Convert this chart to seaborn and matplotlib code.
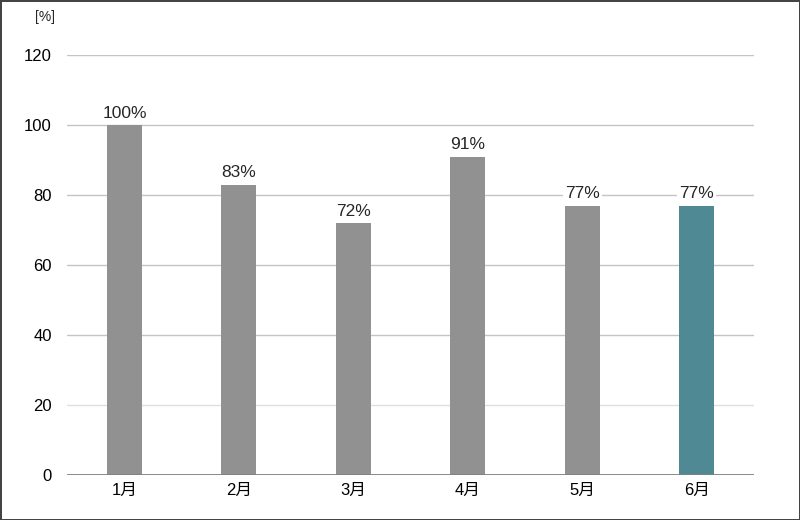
import matplotlib
matplotlib.use("Agg")
from matplotlib import pyplot as plt
import pandas as pd
import seaborn as sns

months = ["1月", "2月", "3月", "4月", "5月", "6月"]
rates = [100, 83, 72, 91, 77, 77]
bar_colors = ["#919191", "#919191", "#919191", "#919191", "#919191", "#4f8a94"]
y_ticks = [0, 20, 40, 60, 80, 100, 120]

sns.set_style("white")
plt.rcParams["font.family"] = ["Liberation Sans", "Noto Sans CJK JP", "DejaVu Sans"]

df = pd.DataFrame({"month": months, "rate": rates})

fig = plt.figure(figsize=(8, 5.2), dpi=100)
fig.patch.set_edgecolor("#444444")
fig.patch.set_linewidth(2)
ax = fig.add_axes([0.084, 0.0865, 0.8585, 0.8075])

sns.barplot(df, x="month", y="rate", hue="month", palette=bar_colors,
            legend=False, width=0.305, saturation=1, linewidth=0, ax=ax, zorder=3)

ax.set_ylim(0, 120)
ax.set_yticks(y_ticks)
ax.set_xlim(-0.5, len(months) - 0.5)
for t in y_ticks[1:]:
    ax.axhline(t, color="#e0e0e0" if t == 20 else "#c4c4c4", linewidth=1, zorder=1)
ax.axhline(0, color="#808080", linewidth=2, zorder=4)

for s in ax.spines.values():
    s.set_visible(False)
ax.tick_params(axis="both", length=0, labelsize=12, colors="black")
ax.tick_params(axis="y", pad=11)
ax.tick_params(axis="x", pad=6)
ax.set_xlabel("")
ax.set_ylabel("")

for i, v in enumerate(rates):
    ax.text(i, v + 1.2, f"{v}%", ha="center", va="bottom", fontsize=12.5, zorder=5,
            bbox=dict(facecolor="white", edgecolor="none", pad=1.5))

fig.text(0.056, 0.967, "[%]", ha="center", va="center", fontsize=10)

fig.savefig("out.png", dpi=100)
